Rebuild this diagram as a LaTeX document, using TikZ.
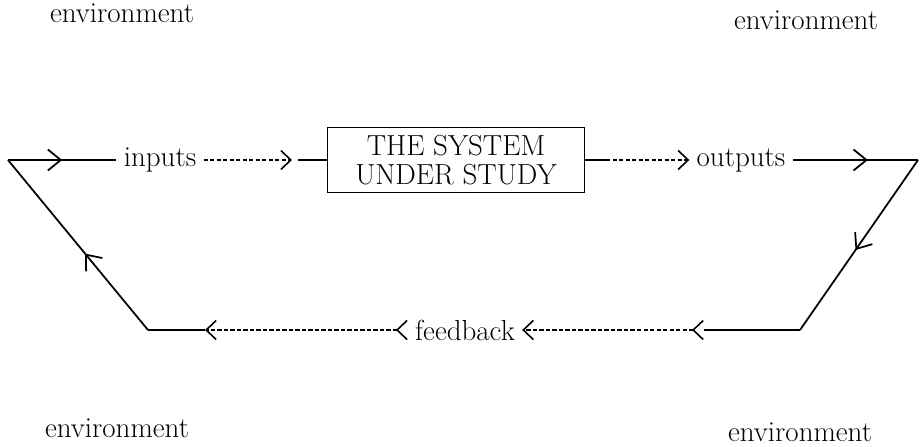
\documentclass[tikz,border=0pt]{standalone}
\usetikzlibrary{positioning,arrows.meta,decorations.markings}

\tikzset{
  barb/.tip={Straight Barb[length=2.6mm,width=4.2mm,line width=1pt]},
  smallbarb/.tip={Straight Barb[line width=0.9pt,length=2mm,width=3.8mm]},
  flow/.style={line width=1pt, postaction={decorate},
    decoration={markings, mark=at position #1 with {\arrow{barb}}}},
  dashflow/.style={line width=0.9pt, dash pattern=on 2.4pt off 1.3pt},
  label/.style={font=\fontsize{16.5}{17}\selectfont, inner xsep=4pt, inner ysep=2pt},
  sysbox/.style={draw, line width=1.1pt, minimum width=5.14cm, minimum height=1.3cm,
    align=center, font=\fontsize{16.5}{16.5}\selectfont}
}

\begin{document}
\begin{tikzpicture}[x=0.02cm,y=-0.02cm]
				\useasboundingbox (0,0) rectangle (922,446);
				
				% the four corners of the loop
				\coordinate (tl) at (8,160);
				\coordinate (tr) at (918,160);
				\coordinate (bl) at (148,330);
				\coordinate (br) at (800,330);
				
				\node[sysbox] (sys) at (456,160) {THE SYSTEM\\UNDER STUDY};
				\node[label] (inp) at (160,160) {inputs};
				\node[label] (outp) at (741,160) {outputs};
				\node[label] (fb) at (465,330) {feedback};
				
				\node[label] (envtl) at (122,13) {environment};
				\node[label] (envtr) at (806,20) {environment};
				\node[label] (envbl) at (117,428) {environment};
				\node[label] (envbr) at (800,432) {environment};
				
				% top line
				\coordinate (ia) at (292,160);
				\coordinate (ib) at (298,160);
				\coordinate (oa) at (606,160);
				\draw[flow=0.5] (tl) -- (inp.west);
				\draw[dashflow,-smallbarb] (inp.east) -- (ia);
				\draw[line width=1pt] (ib) -- (sys.west);
				\draw[line width=1pt] (sys.east) -- (oa);
				\draw[dashflow,-smallbarb] (oa) -- (outp.west);
				\draw[flow=0.6] (outp.east) -- (tr);
				
				% sides
				\draw[flow=0.53] (tr) -- (br);
				\draw[flow=0.45] (bl) -- (tl);
				
				% bottom line
				\coordinate (fa) at (704,330);
				\coordinate (fc) at (205,330);
				\draw[line width=1pt] (br) -- (fa);
				\draw[dashflow,{smallbarb[reversed]}-smallbarb] (fa) -- (fb.east);
				\draw[dashflow,{smallbarb[reversed]}-smallbarb] (fb.west) -- (fc);
				\draw[line width=1pt] (fc) -- (bl);
			\end{tikzpicture}
\end{document}
